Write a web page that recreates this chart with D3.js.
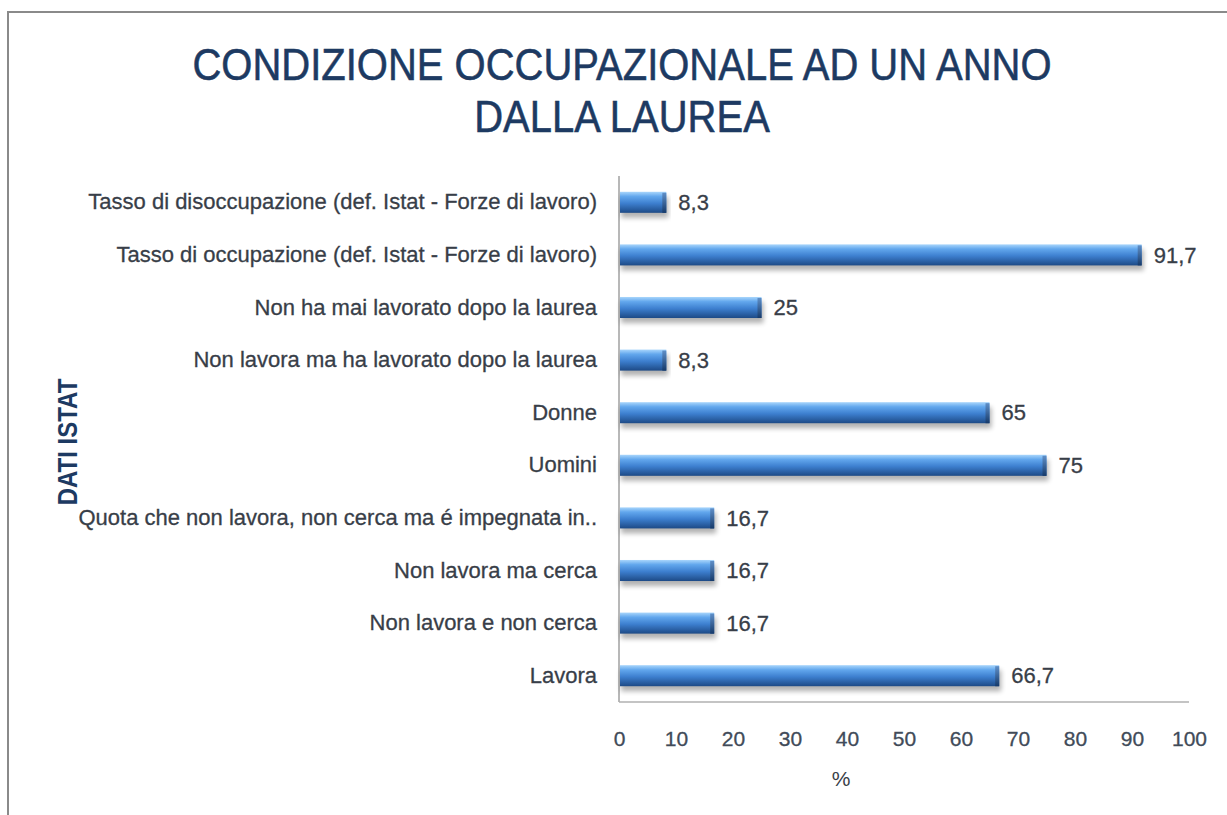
<!DOCTYPE html>
<html>
<head>
<meta charset="utf-8">
<script src="https://cdn.jsdelivr.net/npm/d3@7"></script>
<style>
  body { margin: 0; background: #fff; }
  svg { display: block; }
</style>
</head>
<body>
<div class="container"></div>
<script>
// categories top to bottom, values in %
const categories = [
    "Tasso di disoccupazione (def. Istat - Forze di lavoro)",
    "Tasso di occupazione (def. Istat - Forze di lavoro)",
    "Non ha mai lavorato dopo la laurea",
    "Non lavora ma ha lavorato dopo la laurea",
    "Donne",
    "Uomini",
    "Quota che non lavora, non cerca ma é impegnata in..",
    "Non lavora ma cerca",
    "Non lavora e non cerca",
    "Lavora"
];
const values = [8.3, 91.7, 25, 8.3, 65, 75, 16.7, 16.7, 16.7, 66.7];
const valueLabels = ["8,3", "91,7", "25", "8,3", "65", "75", "16,7", "16,7", "16,7", "66,7"];
const xTicks = [0, 10, 20, 30, 40, 50, 60, 70, 80, 90, 100];
const titleLines = ["CONDIZIONE OCCUPAZIONALE AD UN ANNO", "DALLA LAUREA"];

const W = 1227, H = 815;
const font = "'Liberation Sans', Arial, sans-serif";
const navy = "#1d3a62";
const textCol = "#383e48";
const tickCol = "#414b59";

const svg = d3.select('.container').append('svg')
    .attr('width', W)
    .attr('height', H);

const defs = svg.append('defs');
const grad = defs.append('linearGradient')
    .attr('id', 'barGrad')
    .attr('x1', 0).attr('y1', 0).attr('x2', 0).attr('y2', 1);
grad.append('stop').attr('offset', '0%').attr('stop-color', '#a9d6fc');
grad.append('stop').attr('offset', '22%').attr('stop-color', '#62a7ed');
grad.append('stop').attr('offset', '55%').attr('stop-color', '#3d7fcf');
grad.append('stop').attr('offset', '100%').attr('stop-color', '#1d4a86');

const capGrad = defs.append('linearGradient')
    .attr('id', 'capGrad')
    .attr('x1', 0).attr('y1', 0).attr('x2', 0).attr('y2', 1);
capGrad.append('stop').attr('offset', '0%').attr('stop-color', '#5f8fc8');
capGrad.append('stop').attr('offset', '100%').attr('stop-color', '#163a6a');

defs.append('filter').attr('id', 'shadow')
    .attr('x', '-5%').attr('y', '-50%').attr('width', '110%').attr('height', '200%')
    .append('feGaussianBlur').attr('stdDeviation', 2.5);

// frame
svg.append('path')
    .attr('d', `M8,${H} L8,12 L${W},12`)
    .attr('fill', 'none')
    .attr('stroke', '#8a8a8a')
    .attr('stroke-width', 2);

// title (slightly stretched vertically like the original)
svg.append('g')
    .attr('transform', 'translate(622,80) scale(1,1.12)')
    .append('text')
    .attr('text-anchor', 'middle')
    .attr('font-family', font)
    .attr('font-size', 40)
    .attr('fill', navy)
    .attr('stroke', navy)
    .attr('stroke-width', 0.5)
    .selectAll('tspan').data(titleLines).enter().append('tspan')
    .attr('x', 0)
    .attr('dy', (d, i) => i === 0 ? 0 : 46.5)
    .text(d => d);

const plotLeft = 619, plotRight = 1189, plotTop = 176, plotBottom = 702;

const x = d3.scaleLinear().domain([0, 100]).range([plotLeft, plotRight]);
const y = d3.scaleBand().domain(categories).range([plotTop, plotBottom]).paddingInner(0.6).paddingOuter(0.3);

// axis lines
svg.append('line')
    .attr('x1', plotLeft).attr('x2', plotLeft).attr('y1', plotTop).attr('y2', plotBottom)
    .attr('stroke', '#a0a0a0').attr('stroke-width', 1.5);
svg.append('line')
    .attr('x1', plotLeft).attr('x2', plotRight).attr('y1', plotBottom).attr('y2', plotBottom)
    .attr('stroke', '#b0b0b0').attr('stroke-width', 1.5);

// x axis labels
const xAxis = d3.axisBottom(x).tickValues(xTicks).tickSize(0).tickPadding(29);
const gx = svg.append('g').attr('transform', `translate(0,${plotBottom})`).call(xAxis);
gx.select('.domain').remove();
gx.selectAll('text')
    .attr('font-family', font)
    .attr('font-size', 21)
    .attr('fill', tickCol)
    .attr('stroke', tickCol)
    .attr('stroke-width', 0.3);

// y axis labels
const yAxis = d3.axisLeft(y).tickSize(0).tickPadding(22);
const gy = svg.append('g').attr('transform', `translate(${plotLeft},0)`).call(yAxis);
gy.select('.domain').remove();
gy.selectAll('text')
    .attr('font-family', font)
    .attr('font-size', 22)
    .attr('fill', textCol)
    .attr('stroke', textCol)
    .attr('stroke-width', 0.3);

const rows = categories.map((c, i) => ({cat: c, value: values[i], label: valueLabels[i]}));
const bars = svg.append('g').selectAll('g.bar').data(rows).enter().append('g').attr('class', 'bar');

// drop shadow
bars.append('rect')
    .attr('x', plotLeft + 2)
    .attr('y', d => y(d.cat) + 5)
    .attr('width', d => x(d.value) - plotLeft)
    .attr('height', y.bandwidth())
    .attr('fill', '#000')
    .attr('opacity', 0.3)
    .attr('filter', 'url(#shadow)');

bars.append('rect')
    .attr('x', plotLeft + 1)
    .attr('y', d => y(d.cat))
    .attr('width', d => x(d.value) - plotLeft - 1)
    .attr('height', y.bandwidth())
    .attr('fill', 'url(#barGrad)');

// 3d end cap
bars.append('rect')
    .attr('x', d => x(d.value) - 4)
    .attr('y', d => y(d.cat) + 1)
    .attr('width', 4)
    .attr('height', y.bandwidth() - 1)
    .attr('fill', 'url(#capGrad)');

bars.append('text')
    .attr('x', d => x(d.value) + 12)
    .attr('y', d => y(d.cat) + y.bandwidth() / 2)
    .attr('dy', '0.35em')
    .attr('font-family', font)
    .attr('font-size', 22)
    .attr('fill', textCol)
    .attr('stroke', textCol)
    .attr('stroke-width', 0.3)
    .text(d => d.label);

// axis titles
svg.append('text')
    .attr('transform', 'translate(77,442) rotate(-90) scale(1,1.12)')
    .attr('text-anchor', 'middle')
    .attr('font-family', font)
    .attr('font-weight', 'bold')
    .attr('font-size', 24)
    .attr('fill', navy)
    .text('DATI ISTAT');

svg.append('text')
    .attr('x', 841)
    .attr('y', 786)
    .attr('text-anchor', 'middle')
    .attr('font-family', font)
    .attr('font-size', 21)
    .attr('fill', textCol)
    .text('%');
</script>
</body>
</html>
